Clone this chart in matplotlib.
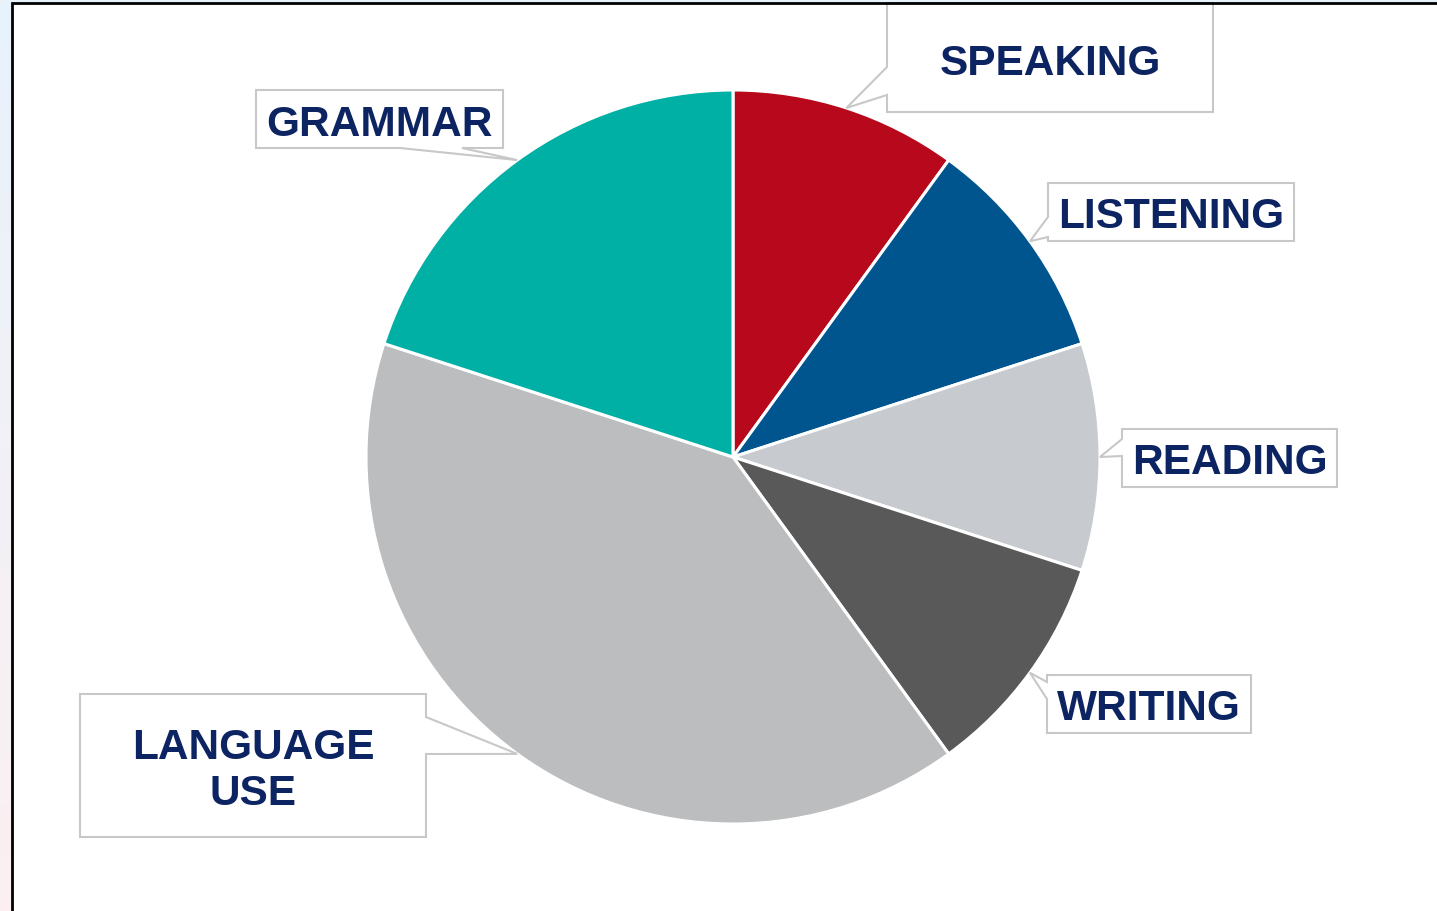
import numpy as np
import matplotlib
matplotlib.use('Agg')
import matplotlib.pyplot as plt
from matplotlib.patches import Polygon, Rectangle

# Data
labels = ['SPEAKING', 'LISTENING', 'READING', 'WRITING', 'LANGUAGE\nUSE', 'GRAMMAR']
shares = [10, 10, 10, 10, 40, 20]
colors = ['#b8091c', '#00558f', '#c7cbcf', '#595959', '#bcbdbf', '#00b0a5']

# Layout (pixels, y measured from top)
W, H = 1437, 912
cx, cy, R = 733, 458, 367
# box: x0, y0, x1, y1, side of pointer, pointer base (two coords along that side), text y
boxes = [
    (887, 4, 1213, 113, 'left', (68, 96), 60),
    (1048, 184, 1294, 242, 'left', (218, 238), 213),
    (1122, 430, 1337, 488, 'left', (440, 457), 459),
    (1047, 676, 1251, 734, 'left', (683, 700), 705),
    (80, 695, 426, 838, 'right', (718, 755), 767),
    (256, 91, 503, 149, 'bottom', (400, 462), 121),
]
text_color = '#0d2463'
box_edge = '#c8c8c8'


def fy(y):
    return H - y


fig = plt.figure(figsize=(W / 100, H / 100), dpi=100)
ax = fig.add_axes([0, 0, 1, 1])

# background: faint gradient strip plus white panel with black border
grad = np.linspace(0, 1, 256)[:, None]
top_c = np.array([0.91, 0.95, 0.985])
bot_c = np.array([0.985, 0.94, 0.945])
img = top_c[None, None, :] * (1 - grad[:, :, None]) + bot_c[None, None, :] * grad[:, :, None]
ax.imshow(img, extent=[0, W, 0, H], aspect='auto', zorder=0)
ax.add_patch(Rectangle((12, -10), W + 20, fy(4) + 10, facecolor='white',
                       edgecolor='none', zorder=1))
ax.plot([12, 12, W + 5], [-5, fy(4), fy(4)], color='black', lw=2.0, zorder=10,
        solid_joinstyle='miter')

wedges, _ = ax.pie(shares, colors=colors, startangle=90, counterclock=False,
                   center=(cx, fy(cy)), radius=R,
                   wedgeprops=dict(edgecolor='white', linewidth=2.2))
for w in wedges:
    w.set_zorder(3)

# callouts pointing at slice midpoints
start = 90.0
for lab, val, b in zip(labels, shares, boxes):
    span = 360.0 * val / sum(shares)
    mid = np.deg2rad(start - span / 2)
    start -= span
    tx, ty = cx + R * np.cos(mid), cy - R * np.sin(mid)
    x0, y0, x1, y1, side, (p1, p2), ly = b
    if side == 'left':
        pts = [(x0, y0), (x1, y0), (x1, y1), (x0, y1), (x0, p2), (tx, ty), (x0, p1)]
    elif side == 'right':
        pts = [(x0, y0), (x1, y0), (x1, p1), (tx, ty), (x1, p2), (x1, y1), (x0, y1)]
    else:
        pts = [(x0, y0), (x1, y0), (x1, y1), (p2, y1), (tx, ty), (p1, y1), (x0, y1)]
    pts = [(px, fy(py)) for px, py in pts]
    ax.add_patch(Polygon(pts, closed=True, facecolor='white', edgecolor=box_edge,
                         lw=1.5, zorder=4))
    ax.text((x0 + x1) / 2, fy(ly + 4), lab, ha='center', va='center',
            fontsize=30.5, fontweight='bold', family='Liberation Sans',
            color=text_color, linespacing=1.17, zorder=5)

ax.set_xlim(0, W)
ax.set_ylim(0, H)
ax.set_aspect('auto')
ax.axis('off')

fig.savefig('out.png', dpi=100)
